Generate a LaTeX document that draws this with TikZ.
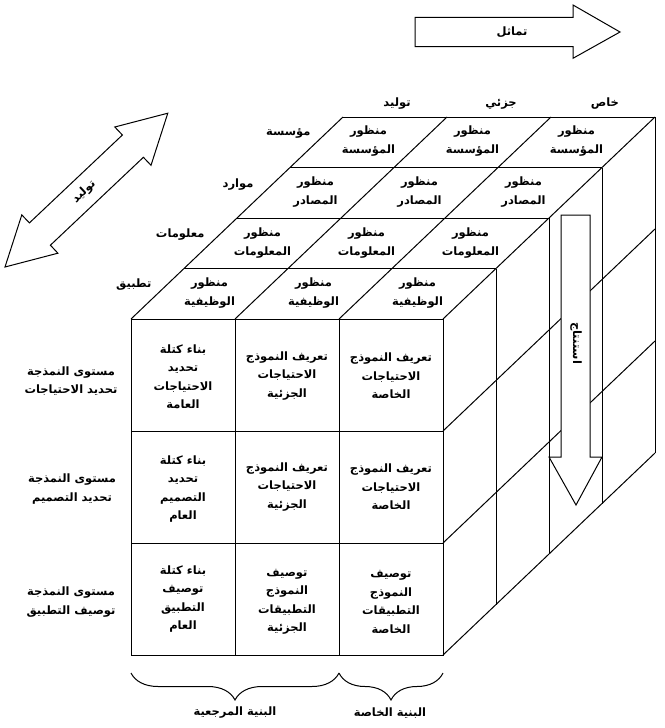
\documentclass[tikz,border=0pt]{standalone}
\usepackage{fontspec}
\newfontfamily\arabicfont[Script=Arabic]{DejaVu Sans}
\TeXXeTstate=1
\usetikzlibrary{decorations.pathreplacing}
\newcommand{\RL}[1]{\beginR #1\endR}
\begin{document}
\begin{tikzpicture}[x=1pt,y=-1pt,line width=1pt,
  ar/.style={font={\arabicfont\bfseries\fontsize{11.5}{18.5}\selectfont},align=center,inner sep=0pt},
  cubeline/.style={draw=black,line width=1pt},
  blockarrow/.style={draw=black,fill=white,line width=1pt,line join=miter},
  bracedeco/.style={decorate,decoration={brace,mirror,amplitude=27pt},line width=1pt}]
\useasboundingbox (0,0) rectangle (664,728);

% ---------- cube: front face ----------
\draw[cubeline] (131,319) rectangle (443,655);
\foreach \x in {235,339} \draw[cubeline] (\x,319) -- (\x,655);
\foreach \y in {431,543} \draw[cubeline] (131,\y) -- (443,\y);
% ---------- top face ----------
\foreach \k in {1,...,4} \draw[cubeline] ({131+53*\k},{319-50.5*\k}) -- ({443+53*\k},{319-50.5*\k});
\foreach \j in {0,...,3} \draw[cubeline] ({131+104*\j},319) -- ({343+104*\j},117);
% ---------- right face ----------
\foreach \k in {1,...,4} \draw[cubeline] ({443+53*\k},{319-50.5*\k}) -- ({443+53*\k},{655-50.5*\k});
\foreach \y in {431,543,655} \draw[cubeline] (443,\y) -- (655,{\y-202});

% ---------- deduction arrow on right face ----------
\draw[blockarrow] (561,215) -- (590,215) -- (590,457) -- (602,457) -- (576,505) -- (549,457) -- (561,457) -- cycle;
\node[ar,rotate=-90] (istintaj) at (576,343) {\RL{استنتاج}};

% ---------- symmetry arrow (top) ----------
\draw[blockarrow] (415,17.3) -- (573,17.3) -- (573,5) -- (620,32) -- (573,58.3) -- (573,46.7) -- (415,46.7) -- cycle;
\node[ar] (tamathul) at (512,32) {\RL{تماثل}};

% ---------- generation double arrow (left) ----------
\draw[blockarrow] (5,267) -- (21.8,214.9) -- (29.4,222.9) -- (122.4,135.0) -- (114.8,127.0) -- (167.8,113.2)
  -- (151.0,165.3) -- (143.4,157.3) -- (50.4,245.2) -- (57.9,253.2) -- cycle;
\node[ar,rotate=43.4] (tawlid) at (84,192) {\RL{توليد}};

% ---------- column headers ----------
\node[ar] (h1) at (397,104) {\RL{توليد}};
\node[ar] (h2) at (501,104) {\RL{جزئي}};
\node[ar] (h3) at (605,104) {\RL{خاص}};

% ---------- top-face row labels ----------
\node[ar,anchor=east] (r1) at (311,133) {\RL{مؤسسة}};
\node[ar,anchor=east] (r2) at (254,185) {\RL{موارد}};
\node[ar,anchor=east] (r3) at (205,235) {\RL{معلومات}};
\node[ar,anchor=east] (r4) at (152,285) {\RL{تطبيق}};

% ---------- top-face cells ----------
\foreach \j in {0,1,2} {
  \node[ar] (ta\j) at ({368.5+104*\j},141) {\RL{منظور}\\\RL{المؤسسة}};
  \node[ar] (tb\j) at ({315.5+104*\j},192) {\RL{منظور}\\\RL{المصادر}};
  \node[ar] (tc\j) at ({262.5+104*\j},243) {\RL{منظور}\\\RL{المعلومات}};
  \node[ar] (td\j) at ({209.5+104*\j},293) {\RL{منظور}\\\RL{الوظيفية}};
}

% ---------- front-face cells ----------
\node[ar] (f11) at (183,377) {\RL{بناء كتلة}\\\RL{تحديد}\\\RL{الاحتياجات}\\\RL{العامة}};
\node[ar] (f12) at (287,376) {\RL{تعريف النموذج}\\\RL{الاحتياجات}\\\RL{الجزئية}};
\node[ar] (f13) at (391,376) {\RL{تعريف النموذج}\\\RL{الاحتياجات}\\\RL{الخاصة}};
\node[ar] (f21) at (183,489) {\RL{بناء كتلة}\\\RL{تحديد}\\\RL{التصميم}\\\RL{العام}};
\node[ar] (f22) at (287,487) {\RL{تعريف النموذج}\\\RL{الاحتياجات}\\\RL{الجزئية}};
\node[ar] (f23) at (391,487) {\RL{تعريف النموذج}\\\RL{الاحتياجات}\\\RL{الخاصة}};
\node[ar] (f31) at (183,599) {\RL{بناء كتلة}\\\RL{توصيف}\\\RL{التطبيق}\\\RL{العام}};
\node[ar] (f32) at (287,602) {\RL{توصيف}\\\RL{النموذج}\\\RL{التطبيقات}\\\RL{الجزئية}};
\node[ar] (f33) at (391,602) {\RL{توصيف}\\\RL{النموذج}\\\RL{التطبيقات}\\\RL{الخاصة}};

% ---------- left level labels ----------
\node[ar] (l1) at (71,381) {\RL{مستوى النمذجة}\\\RL{تحديد الاحتياجات}};
\node[ar] (l2) at (72,489) {\RL{مستوى النمذجة}\\\RL{تحديد التصميم}};
\node[ar] (l3) at (71,602) {\RL{مستوى النمذجة}\\\RL{توصيف التطبيق}};

% ---------- braces ----------
\coordinate (b1) at (131,673);
\coordinate (b2) at (339,673);
\coordinate (b3) at (443,673);
\draw[bracedeco] (b1) -- (b2);
\draw[bracedeco] (b2) -- (b3);
\node[ar] (bm) at (235,713) {\RL{البنية المرجعية}};
\node[ar] (bk) at (390,713) {\RL{البنية الخاصة}};
\end{tikzpicture}
\end{document}
